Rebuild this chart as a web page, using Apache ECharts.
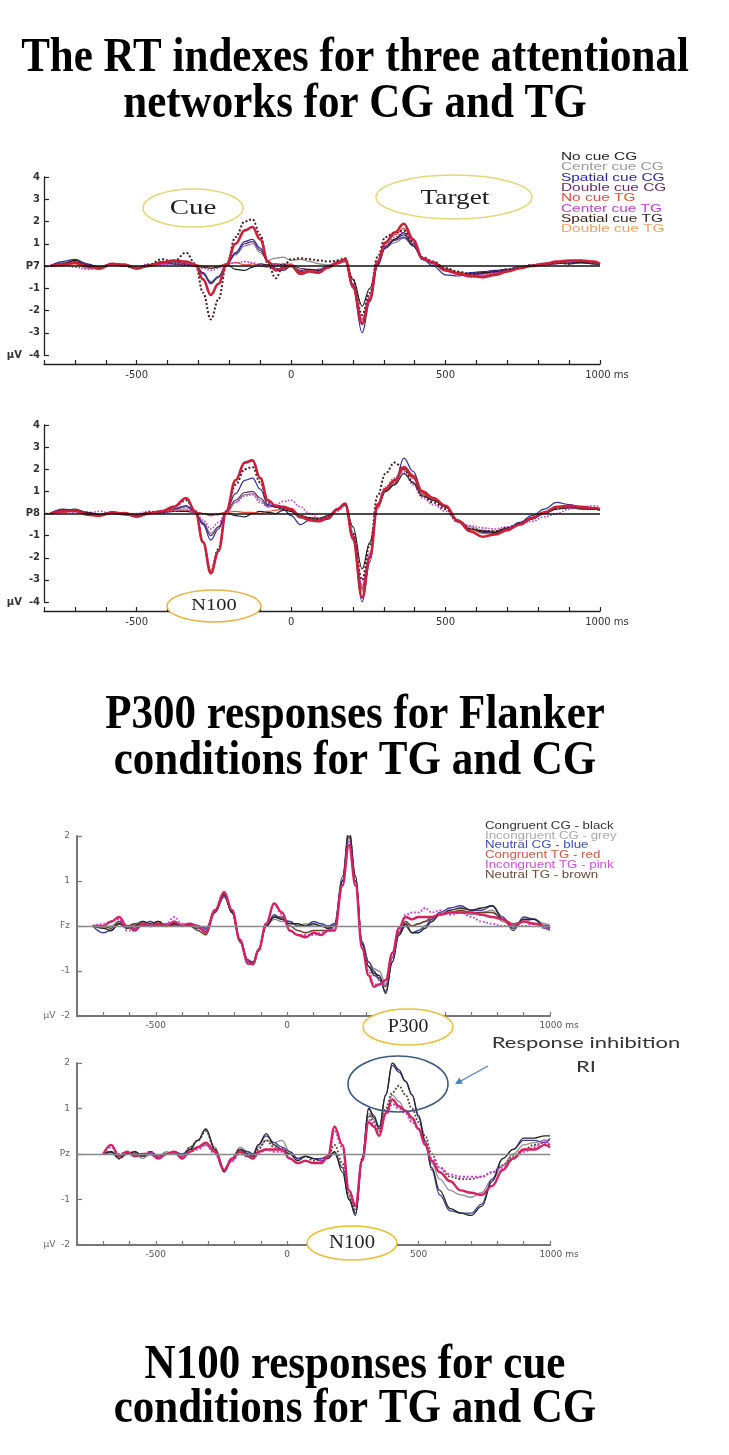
<!DOCTYPE html>
<html><head><meta charset="utf-8">
<script src="https://cdn.jsdelivr.net/npm/echarts@6/dist/echarts.min.js"></script>
<style>html,body{margin:0;padding:0;background:#fff}#c{width:729px;height:1455px}</style>
</head><body><div id="c"></div>
<script>
// ---------- text ----------
const titleLines = [
  ['The RT indexes for three attentional', 'networks for CG and TG'],
  ['P300 responses for Flanker', 'conditions for TG and CG'],
  ['N100 responses for cue', 'conditions for TG and CG']
];
const cueNames = ['No cue CG','Center cue CG','Spatial cue CG','Double cue CG','No cue TG','Center cue TG','Spatial cue TG','Double cue TG'];
const flankerNames = ['Congruent CG - black','Incongruent CG - grey','Neutral CG - blue','Congruent TG - red','Incongruent TG - pink','Neutral TG - brown'];
const electrodesTop = ['P7','P8'];
const electrodesBottom = ['Fz','Pz'];

// ---------- time samples (ms) ----------
const timeCue = [-780,-740,-700,-660,-620,-580,-540,-500,-460,-420,-380,-340,-310,-285,-260,-235,-210,-180,-150,-125,-100,-75,-50,-25,0,30,60,90,120,150,175,200,230,255,280,305,335,365,395,425,460,500,540,580,620,660,700,740,780,820,860,900,940,980,1000];
const timeFlanker = [-740,-700,-670,-640,-610,-580,-550,-520,-490,-460,-430,-400,-370,-340,-310,-275,-240,-210,-180,-150,-130,-110,-80,-50,-20,10,40,70,100,130,155,180,210,235,260,285,310,330,350,375,400,425,450,475,500,525,550,580,620,660,700,740,780,820,860,900,940,980,1000];

// ---------- P7 (µV) ----------
const p7NoCueCG    = [0,0.1,0.25,0.05,-0.05,0.1,0.05,-0.1,0.05,0.2,0.1,0.05,0,-0.05,-0.1,-0.05,0.1,-0.15,-0.2,-0.05,0.1,0.05,0.1,0.05,0,-0.2,-0.15,-0.2,-0.05,0.2,0.3,-0.6,-1.8,-1.0,0.1,0.9,1.2,1.5,0.9,0.35,0.15,-0.15,-0.3,-0.35,-0.3,-0.25,-0.2,-0.1,0,0.05,0.15,0.1,0.15,0.1,0.1];
const p7CenterCG   = [0,0.15,0.2,0,-0.1,0.1,0,-0.15,0,0.1,0.15,0.1,0.05,-0.3,-0.7,-0.45,0.05,0.5,0.9,1.0,0.6,0.25,0.35,0.4,0.25,0.3,0.2,0.1,0.05,0.15,0.3,-0.8,-2.5,-1.4,0.1,0.8,1.05,1.25,0.9,0.35,0.2,-0.1,-0.3,-0.45,-0.35,-0.25,-0.2,-0.05,0.05,0.1,0.2,0.15,0.2,0.15,0.1];
const p7SpatialCG  = [0,0.2,0.3,0.1,-0.05,0.05,0,-0.1,0.05,0.1,0.1,0.05,0,-0.35,-0.8,-0.5,0,0.6,1.1,1.2,0.8,0.2,-0.1,-0.2,0,-0.25,-0.2,-0.15,0,0.1,0.25,-1.0,-3.0,-1.6,0,0.8,1.2,1.4,1.0,0.3,0,-0.4,-0.45,-0.3,-0.25,-0.2,-0.15,-0.05,0,0.1,0.15,0.2,0.15,0.1,0.05];
const p7DoubleCG   = [0,0.05,0.15,-0.05,-0.1,0.1,0.05,-0.1,0,0.15,0.2,0.1,0.05,-0.3,-0.75,-0.5,0.05,0.55,1.0,1.1,0.7,0.2,0,0.1,0.05,-0.1,-0.15,-0.2,0,0.15,0.3,-0.8,-2.6,-1.5,0.05,0.85,1.15,1.3,0.95,0.3,0.1,-0.2,-0.35,-0.4,-0.35,-0.3,-0.2,-0.1,0,0.05,0.1,0.2,0.15,0.2,0.1];
const p7NoCueTG    = [0,0.05,0.1,-0.1,-0.15,0.05,0.1,-0.05,0.05,0.1,0.25,0.15,0.05,0,-0.05,0,0.1,0.15,0.05,0.1,0,-0.05,0.05,0,0.1,-0.3,-0.2,-0.25,-0.1,0.1,0.2,-0.9,-2.4,-1.4,0.2,1.0,1.4,1.7,1.1,0.35,0.15,-0.15,-0.3,-0.4,-0.45,-0.35,-0.25,-0.1,0,0.1,0.15,0.2,0.25,0.15,0.1];
const p7CenterTG   = [0,0.1,-0.05,-0.15,-0.1,0.05,0,-0.05,0.1,0.05,0.1,0.05,0,-0.1,-0.2,-0.1,0.05,0.15,0.2,0.15,0.05,0,0.1,0.05,0,-0.2,-0.25,-0.15,0,0.1,0.2,-0.8,-2.4,-1.3,0.1,0.9,1.3,1.55,1.0,0.3,0.1,-0.2,-0.35,-0.5,-0.4,-0.3,-0.2,-0.1,0.05,0.1,0.2,0.2,0.25,0.15,0.1];
const p7SpatialTG  = [0,0.1,0.2,0,-0.05,0.1,0,-0.1,0.05,0.3,0.2,0.6,0.1,-1.2,-2.4,-1.5,0,1.3,2.0,2.1,1.4,0.1,-0.55,0,0.3,0.35,0.3,0.25,0.2,0.25,0.35,-0.6,-2.2,-1.2,0.4,1.3,1.5,1.6,1.1,0.4,0.2,-0.1,-0.25,-0.35,-0.3,-0.25,-0.15,-0.05,0.05,0.1,0.15,0.1,0.2,0.15,0.1];
const p7DoubleTG   = [0,0.05,0.15,0,-0.1,0.1,0.05,-0.1,0,0.15,0.25,0.2,0.05,-0.6,-1.3,-0.8,0.05,1.0,1.6,1.75,1.2,0.2,-0.2,-0.1,0,-0.35,-0.25,-0.3,-0.05,0.15,0.3,-0.9,-2.6,-1.5,0.2,1.05,1.5,1.9,1.2,0.35,0.15,-0.2,-0.35,-0.45,-0.5,-0.4,-0.25,-0.1,0,0.1,0.2,0.25,0.25,0.2,0.1];

// ---------- P8 (µV) ----------
const p8NoCueCG    = [0,0.1,0.2,0.05,-0.05,0,-0.05,-0.1,0,0.05,0.1,0.1,0.05,0,-0.05,-0.05,0.05,-0.1,-0.15,0,0.1,0.05,0,0.15,0.1,-0.1,-0.2,-0.25,-0.1,0.2,0.45,-0.6,-2.5,-1.3,0.3,1.0,1.3,1.8,1.4,0.8,0.6,0.3,-0.3,-0.7,-0.8,-0.85,-0.7,-0.5,-0.25,0,0.2,0.25,0.2,0.2,0.15];
const p8CenterCG   = [0,0.15,0.1,0,-0.05,0.05,0,-0.1,0.05,0,0.15,0.3,0.05,-0.4,-0.9,-0.6,0,0.5,0.85,0.9,0.6,0.3,0.35,0.3,0.2,-0.1,-0.2,-0.2,-0.1,0.2,0.4,-0.9,-3.3,-1.8,0.2,1.0,1.4,2.0,1.6,0.9,0.6,0.3,-0.3,-0.6,-0.75,-0.8,-0.65,-0.45,-0.2,0.05,0.3,0.3,0.25,0.2,0.2];
const p8SpatialCG  = [0,0.2,0.15,0,-0.1,0.05,-0.05,-0.1,0,0.05,0.2,0.35,0.05,-0.5,-1.2,-0.7,0.1,0.9,1.5,1.6,1.1,0.4,0.3,0.2,-0.1,-0.5,-0.3,-0.35,-0.25,0.15,0.45,-1.2,-4.0,-2.2,0.3,1.0,1.3,2.5,1.9,1.0,0.6,0.3,-0.35,-0.7,-0.85,-0.9,-0.7,-0.4,-0.1,0.2,0.5,0.4,0.3,0.2,0.2];
const p8DoubleCG   = [0,0.1,0.15,-0.05,-0.1,0.05,0,-0.15,0,0.05,0.2,0.35,0.05,-0.45,-1.0,-0.6,0.05,0.6,0.95,1.0,0.7,0.35,0.3,0.25,0.1,-0.2,-0.3,-0.3,-0.2,0.2,0.45,-1.0,-3.4,-1.9,0.3,1.0,1.4,2.1,1.6,0.9,0.6,0.3,-0.3,-0.7,-0.8,-0.85,-0.65,-0.45,-0.2,0,0.3,0.3,0.25,0.2,0.15];
const p8NoCueTG    = [0,0.05,0.1,-0.05,-0.1,0,0.05,-0.05,0.05,0.1,0.15,0.15,0.05,0,-0.1,0,0.05,0.1,0.05,0.05,0,0.1,0.15,0.2,0.15,-0.1,-0.25,-0.3,-0.15,0.15,0.4,-1.0,-3.5,-1.9,0.3,1.05,1.4,2.0,1.6,0.9,0.65,0.35,-0.3,-0.7,-0.9,-0.95,-0.7,-0.5,-0.2,0.05,0.3,0.3,0.25,0.25,0.2];
const p8CenterTG   = [0,0.1,0.05,0,0.1,0,-0.05,0,0.1,0.05,0.1,0.2,0.05,-0.3,-0.7,-0.4,0.05,0.5,0.8,0.85,0.5,0.3,0.4,0.55,0.6,0.3,0,-0.2,-0.15,0.1,0.35,-0.9,-3.2,-1.8,0.4,1.2,1.6,1.9,1.3,0.7,0.4,0.1,-0.4,-0.55,-0.65,-0.7,-0.6,-0.5,-0.35,-0.15,0,0.2,0.3,0.35,0.3];
const p8SpatialTG  = [0,0.15,0.1,0.05,-0.05,0.05,0,-0.1,0.05,0.1,0.3,0.6,0.1,-1.3,-2.6,-1.6,0.1,1.3,2.0,2.1,1.4,0.5,0.3,0.2,0.15,-0.1,-0.2,-0.25,-0.15,0.2,0.4,-0.9,-3.0,-1.4,0.8,1.8,2.3,2.0,1.4,0.8,0.5,0.2,-0.35,-0.7,-0.8,-0.8,-0.65,-0.45,-0.2,0.05,0.25,0.3,0.25,0.2,0.2];
const p8DoubleTG   = [0,0.1,0.15,-0.05,-0.1,0.05,0,-0.15,0,0.1,0.3,0.7,0.1,-1.3,-2.7,-1.7,0.1,1.5,2.3,2.4,1.6,0.6,0.35,0.3,0.2,-0.15,-0.3,-0.35,-0.2,0.2,0.45,-1.1,-3.8,-2.0,0.4,1.1,1.5,2.1,1.7,1.0,0.7,0.35,-0.35,-0.8,-1.05,-0.95,-0.75,-0.5,-0.2,0.05,0.3,0.35,0.3,0.25,0.2];

// ---------- Fz (µV) ----------
const fzCongCG   = [0,-0.05,-0.1,0.05,-0.05,0,0.1,0.05,0.1,0,0.05,0,0,-0.05,-0.1,0.35,0.7,0.3,-0.35,-0.8,-0.8,-0.55,0,0.2,0.15,0.05,0.05,0,0.05,0,-0.05,0,1.0,2.15,1.1,-0.4,-0.9,-1.05,-1.1,-1.5,-0.8,-0.2,0.05,-0.15,-0.15,-0.05,0.1,0.25,0.35,0.4,0.35,0.4,0.45,0.15,-0.05,0.15,0.15,0,-0.05];
const fzIncongCG = [0,-0.05,0,0.1,-0.05,0.05,0.1,0,0.05,0,0.05,0.05,0,0,-0.05,0.3,0.7,0.3,-0.3,-0.75,-0.8,-0.5,0,0.15,0.1,0.1,0,0.05,0,0,-0.05,0.05,1.0,2.0,1.0,-0.35,-0.8,-0.95,-1.0,-1.3,-0.7,-0.15,0.05,0,0.05,0.1,0.15,0.25,0.3,0.3,0.25,0.3,0.35,0.1,0,0.1,0.15,0.05,0];
const fzNeutCG   = [0,-0.15,-0.1,0.05,0,-0.05,0.05,0.1,0,0.05,0,0,0.05,0,-0.05,0.3,0.65,0.3,-0.3,-0.75,-0.85,-0.55,0,0.25,0.15,0.1,0,0,0.1,0.05,0,0.05,1.1,2.15,1.1,-0.35,-0.8,-1.0,-1.2,-1.45,-0.8,-0.2,0,-0.15,-0.1,0,0.15,0.3,0.4,0.45,0.35,0.35,0.45,0.2,-0.1,0.2,0.15,-0.05,-0.1];
const fzCongTG   = [0,0,0.1,0.2,0,-0.1,0.05,0,0.05,0,0.1,0,0.05,0,-0.15,0.35,0.75,0.35,-0.3,-0.8,-0.85,-0.55,0.05,0.5,0.3,-0.1,-0.2,-0.25,-0.15,-0.2,-0.1,-0.1,0.9,1.8,0.9,-0.5,-1.1,-1.35,-1.3,-1.2,-0.6,-0.05,0.2,0.15,0.2,0.2,0.2,0.25,0.3,0.3,0.3,0.25,0.2,0.15,0,0.1,0.05,0,-0.05];
const fzIncongTG = [0,0.05,0.1,0.15,-0.1,-0.1,0.05,0.05,0,0.05,0.2,0.05,0.05,-0.05,-0.1,0.35,0.75,0.35,-0.35,-0.85,-0.85,-0.55,0.05,0.5,0.25,-0.1,-0.2,-0.2,-0.2,-0.15,-0.1,-0.05,0.9,1.9,0.95,-0.45,-1.0,-1.3,-1.3,-1.3,-0.7,-0.1,0.25,0.3,0.3,0.4,0.3,0.35,0.25,0.3,0.2,0.1,0.05,0,0.05,0,0.05,-0.05,0.05];
const fzNeutTG   = [0,0,-0.05,0.1,0,0.05,0,0.05,0.1,0,0.05,0,0,-0.1,-0.2,0.3,0.7,0.3,-0.35,-0.85,-0.85,-0.55,0,0.2,0.2,0,-0.1,-0.15,-0.1,-0.1,-0.1,0,1.0,2.0,1.0,-0.4,-0.9,-1.1,-1.15,-1.35,-0.7,-0.15,0.1,0,0.05,0.1,0.2,0.25,0.3,0.35,0.3,0.3,0.3,0.15,0.05,0.1,0.05,0,0];

// ---------- Pz (µV) ----------
const pzCongCG   = [null,0,0.05,-0.1,0,0.05,-0.05,0.05,-0.1,0,0.05,-0.1,0.1,0.3,0.55,0.1,-0.4,-0.1,0.1,0,-0.05,0.2,0.45,0.2,0.1,0,-0.15,-0.05,-0.1,-0.15,-0.1,0.05,-0.4,-1.0,-1.35,-0.1,1.0,0.8,0.6,1.3,2.0,1.85,1.6,1.3,0.85,0.3,-0.3,-0.8,-1.2,-1.3,-1.35,-1.15,-0.6,-0.1,0.1,0.35,0.35,0.4,0.4];
const pzIncongCG = [null,0,0,-0.05,0.05,0,-0.1,0,-0.05,0.05,0,-0.05,0.15,0.3,0.55,0.15,-0.35,-0.1,0.15,0.05,0,0.15,0.3,0.25,0.3,0.05,-0.1,-0.05,-0.1,-0.1,-0.05,0.05,-0.3,-0.95,-1.3,-0.15,0.9,0.75,0.55,0.9,1.3,1.15,0.95,0.75,0.55,0.2,-0.2,-0.55,-0.8,-0.9,-0.95,-0.85,-0.55,-0.25,0,0.2,0.25,0.3,0.3];
const pzNeutCG   = [null,0,0.05,-0.05,0,0,-0.05,0.05,-0.05,0,0.05,0,0.1,0.15,0.2,0.05,-0.35,-0.15,0.1,0.05,0,0.2,0.4,0.25,0.15,0.05,-0.1,-0.05,-0.1,-0.1,-0.05,0,-0.3,-1.0,-1.3,-0.1,1.0,0.85,0.55,1.3,1.95,1.8,1.6,1.3,0.8,0.25,-0.35,-0.9,-1.25,-1.3,-1.3,-1.1,-0.55,-0.1,0.1,0.3,0.3,0.25,0.35];
const pzCongTG   = [null,0,0.2,-0.05,0.05,-0.05,0,0,-0.1,0,0.05,-0.1,0.05,0.15,0.25,0.05,-0.35,-0.1,0.05,-0.05,-0.1,0.05,0.1,0.1,0.1,-0.1,-0.2,-0.15,-0.2,-0.2,-0.05,0.6,0.2,-0.8,-1.15,-0.15,0.7,0.6,0.4,0.9,1.2,1.05,0.95,0.8,0.55,0.2,-0.15,-0.4,-0.6,-0.8,-0.85,-0.9,-0.7,-0.35,-0.1,0.1,0.1,0.2,0.15];
const pzIncongTG = [null,0,0.15,0,0.05,-0.05,0,0.05,-0.05,0,0,-0.05,0.05,0.1,0.2,0,-0.35,-0.15,0,-0.05,-0.1,0,0.1,0.05,0.05,-0.1,-0.2,-0.15,-0.2,-0.15,-0.05,0.5,0.15,-0.8,-1.1,-0.1,0.75,0.65,0.5,0.85,1.1,1.0,0.9,0.7,0.55,0.25,-0.1,-0.3,-0.45,-0.5,-0.5,-0.5,-0.4,-0.3,-0.1,0.05,0.15,0.3,0.2];
const pzNeutTG   = [null,0,0.05,-0.1,0,0.05,-0.05,0,-0.05,0,0.05,-0.05,0.15,0.3,0.5,0.1,-0.35,-0.1,0.1,0,-0.05,0.1,0.3,0.15,0.1,0,-0.1,-0.05,-0.15,-0.1,-0.05,0.2,-0.2,-0.9,-1.25,-0.1,0.85,0.7,0.5,1.0,1.35,1.5,1.3,1.0,0.7,0.4,0,-0.3,-0.5,-0.55,-0.55,-0.5,-0.4,-0.25,-0.05,0.1,0.2,0.25,0.2];

// ---------- styles ----------
const cueLineStyles = [
  {color:'#1c1c1c', width:1.2, type:'solid'},
  {color:'#8a8a8a', width:1.2, type:'solid'},
  {color:'#2c2c9c', width:1.2, type:'solid'},
  {color:'#6a2a6a', width:1.2, type:'solid'},
  {color:'#e0503c', width:1.2, type:'solid'},
  {color:'#c040d0', width:1.6, type:'dotted'},
  {color:'#4a1c20', width:2.0, type:'dotted'},
  {color:'#cc1f3a', width:2.6, type:'solid'}
];
const cueLegendColors = ['#222','#9a9a9a','#2b2ba0','#6a2a6a','#e0503c','#c040e0','#3a1e1e','#f0a060'];
const flankerLineStylesFz = [
  {color:'#262626', width:1.3, type:'solid'},
  {color:'#8e8e8e', width:1.3, type:'solid'},
  {color:'#3b3f9c', width:1.3, type:'solid'},
  {color:'#d6225e', width:2.4, type:'solid'},
  {color:'#d03ce0', width:1.8, type:'dotted'},
  {color:'#6b3b2b', width:1.3, type:'solid'}
];
const flankerLineStylesPz = [
  {color:'#262626', width:1.3, type:'solid'},
  {color:'#8e8e8e', width:1.3, type:'solid'},
  {color:'#3b3f9c', width:1.3, type:'solid'},
  {color:'#d6225e', width:2.4, type:'solid'},
  {color:'#d03ce0', width:2.0, type:'dotted'},
  {color:'#6b3b2b', width:1.8, type:'dotted'}
];
const flankerLegendColors = ['#333','#aaa','#4050b0','#d05a40','#d050e0','#6a4a3a'];
const drawOrderCue = [1,3,2,0,4,5,6,7];
const drawOrderFlanker = [1,5,2,0,4,3];

const p7Sets = [p7NoCueCG,p7CenterCG,p7SpatialCG,p7DoubleCG,p7NoCueTG,p7CenterTG,p7SpatialTG,p7DoubleTG];
const p8Sets = [p8NoCueCG,p8CenterCG,p8SpatialCG,p8DoubleCG,p8NoCueTG,p8CenterTG,p8SpatialTG,p8DoubleTG];
const fzSets = [fzCongCG,fzIncongCG,fzNeutCG,fzCongTG,fzIncongTG,fzNeutTG];
const pzSets = [pzCongCG,pzIncongCG,pzNeutCG,pzCongTG,pzIncongTG,pzNeutTG];

// ---------- build ----------
function pts(time, vals){ const o=[]; time.forEach((t,i)=>{ if(vals[i]!==null) o.push([t, vals[i]]); }); return o; }
function lineSeries(name, idx, time, vals, st){
  return {type:'line', name, xAxisIndex:idx, yAxisIndex:idx, data:pts(time, vals),
    smooth:0.4, smoothMonotone:'x', showSymbol:false, symbol:'none', silent:true,
    lineStyle:{color:st.color, width:st.width, type:st.type}};
}
function zeroLine(idx, color, width){
  return {type:'line', xAxisIndex:idx, yAxisIndex:idx, data:[], silent:true,
    markLine:{silent:true, symbol:'none', label:{show:false}, animation:false,
      data:[{yAxis:0}], lineStyle:{color, width, type:'solid'}}};
}

const grids = [
  {left:44, width:556, top:177, height:178},
  {left:44, width:556, top:425, height:177},
  {left:77, width:473, top:836, height:180},
  {left:77, width:473, top:1063, height:182}
];

function xAxisCfg(i, top){
  const c = top ? '#222' : '#777';
  return {type:'value', gridIndex:i, min:-800, max:1000, interval:100, position:'bottom',
    offset: top ? 9 : 0,
    axisLine:{show:true, onZero:false, lineStyle:{color:c, width: top?1.3:2}},
    axisTick:{show:true, inside:true, length:4, lineStyle:{color:c, width:1.2}},
    splitLine:{show:false},
    axisLabel:{margin: top?6:5, fontSize: top?10:9, fontFamily:'DejaVu Sans', color: top?'#333':'#555',
      showMinLabel:true, showMaxLabel:true, hideOverlap:false,
      formatter: v => v===1000 ? '{p|}1000 ms' : (v%500===0 ? String(v) : ''),
      rich:{p:{width: top?14:18}}}
  };
}
function yAxisCfg(i, top, name){
  const c = top ? '#222' : '#777';
  const lo = top ? -4 : -2, hi = top ? 4 : 2;
  return {type:'value', gridIndex:i, min:lo, max:hi, interval:1,
    axisLine:{show:true, onZero:false, lineStyle:{color:c, width: top?1.3:2}},
    axisTick:{show:true, inside:true, length:5, lineStyle:{color:c, width:1.2}},
    splitLine:{show:false},
    axisLabel:{margin: top?4:7, fontSize: top?10:9, fontWeight: top?'bold':'normal', fontFamily:'DejaVu Sans',
      color: top?'#333':'#666',
      formatter: v => v===0 ? name : (v===lo ? 'µV  '+v : String(v))}
  };
}

const series = [];
series.push(zeroLine(0,'#111',1.5), zeroLine(1,'#111',1.5), zeroLine(2,'#888',1.3), zeroLine(3,'#888',1.3));
drawOrderCue.forEach(k=>{
  series.push(lineSeries(cueNames[k], 0, timeCue, p7Sets[k], cueLineStyles[k]));
  series.push(lineSeries(cueNames[k], 1, timeCue, p8Sets[k], cueLineStyles[k]));
});
drawOrderFlanker.forEach(k=>{
  series.push(lineSeries(flankerNames[k], 2, timeFlanker, fzSets[k], flankerLineStylesFz[k]));
  series.push(lineSeries(flankerNames[k], 3, timeFlanker, pzSets[k], flankerLineStylesPz[k]));
});

// ---------- graphics: titles, legends, annotations ----------
const graphic = [];
const titleY = [[58,104],[715,761],[1365,1409]];
titleLines.forEach((pair,ti)=>pair.forEach((txt,li)=>{
  graphic.push({type:'text', x:355, y:titleY[ti][li], scaleY:1.15, z:100,
    style:{text:txt, fontFamily:'Liberation Serif', fontWeight:'bold', fontSize:43, fill:'#000', align:'center', verticalAlign:'middle'}});
}));
cueNames.forEach((n,i)=>{
  graphic.push({type:'text', x:561, y:157+i*10.3, scaleX:1.4, z:100,
    style:{text:n, fontFamily:'Liberation Sans', fontSize:11, fill:cueLegendColors[i], align:'left', verticalAlign:'middle'}});
});
flankerNames.forEach((n,i)=>{
  graphic.push({type:'text', x:485, y:826+i*9.8, scaleX:1.33, z:100,
    style:{text:n, fontFamily:'Liberation Sans', fontSize:10, fill:flankerLegendColors[i], align:'left', verticalAlign:'middle'}});
});
function ellipse(cx,cy,rx,ry,stroke,fill,w){
  graphic.push({type:'ellipse', z:90, shape:{cx,cy,rx,ry}, style:{stroke, fill, lineWidth:w||1.5}});
}
function label(x,y,txt,size,sx,font,color){
  graphic.push({type:'text', x, y, scaleX:sx, z:101,
    style:{text:txt, fontFamily:font||'Liberation Serif', fontSize:size, fill:color||'#222', align:'center', verticalAlign:'middle'}});
}
ellipse(193,208,50,19,'#e2d878','#fff');   label(193,209,'Cue',20,1.45);
ellipse(454,197,78,22,'#e2d878','#fff');   label(455,198,'Target',21,1.3);
ellipse(214,606,47,16,'#e8b448','#fff');   label(214,606,'N100',17,1.2);
ellipse(408,1027,45,18,'#e6c040','#fff');  label(408,1027,'P300',18,1.1);
ellipse(352,1243,45,17,'#e8c030','#fff');  label(352,1243,'N100',18,1.15);
ellipse(398,1084,50,28,'#3d5a80','none',1.6);
label(586,1043,'Response inhibition',16,1.37,'Lato','#333');
label(586,1067,'RI',16,1.37,'Lato','#333');
graphic.push({type:'line', z:100, shape:{x1:488,y1:1066,x2:459,y2:1082}, style:{stroke:'#5080c0', lineWidth:1.4}});
graphic.push({type:'polygon', z:100, shape:{points:[[455,1084],[462.8,1083.7],[459.4,1077.6]]}, style:{fill:'#5080c0'}});

const chart = echarts.init(document.getElementById('c'), null, {renderer:'canvas', width:729, height:1455});
chart.setOption({
  animation:false,
  backgroundColor:'#fff',
  grid: grids,
  xAxis: [xAxisCfg(0,true), xAxisCfg(1,true), xAxisCfg(2,false), xAxisCfg(3,false)],
  yAxis: [yAxisCfg(0,true,electrodesTop[0]), yAxisCfg(1,true,electrodesTop[1]), yAxisCfg(2,false,electrodesBottom[0]), yAxisCfg(3,false,electrodesBottom[1])],
  series,
  graphic
});
</script></body></html>
